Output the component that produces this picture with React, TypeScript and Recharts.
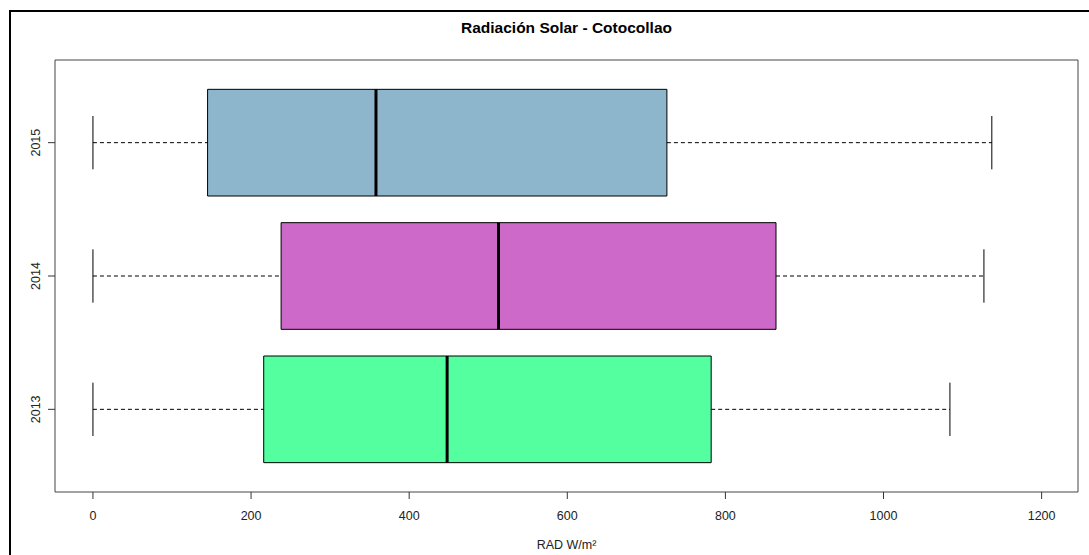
import { ComposedChart, XAxis, YAxis, Scatter, ReferenceArea, ReferenceLine } from 'recharts'

// valores (W/m²)
const years = ['2013', '2014', '2015']
const minVals = [0, 0, 0]
const q1Vals = [216, 238, 145]
const medianVals = [448, 513, 358]
const q3Vals = [782, 864, 726]
const maxVals = [1084, 1127, 1137]
const boxColors = ['#54FF9F', '#CD69C9', '#8DB6CD']
const xTicks = [0, 200, 400, 600, 800, 1000, 1200]

const FONT = '"Liberation Sans", Arial, sans-serif'

const boxes = years.map((year, i) => ({
  year,
  pos: i + 1,
  min: minVals[i],
  q1: q1Vals[i],
  median: medianVals[i],
  q3: q3Vals[i],
  max: maxVals[i],
  color: boxColors[i],
}))

const YearTick = (props: any) => {
  const { x, y, payload } = props
  return (
    <text
      x={x}
      y={y}
      transform={`rotate(-90, ${x}, ${y})`}
      textAnchor="middle"
      fontSize={12.5}
      fontFamily={FONT}
      fill="#222"
    >
      {years[payload.value - 1]}
    </text>
  )
}

export default function App() {
  return (
    <div style={{ position: 'fixed', left: 0, top: 0, width: 1089, height: 555, overflow: 'hidden', background: '#fff' }}>
      {/* marco exterior */}
      <div style={{ position: 'absolute', left: 9, top: 10, width: 1200, height: 700, border: '2px solid #000', boxSizing: 'border-box' }} />
      <div style={{ position: 'absolute', left: 0, top: 19, width: 1133, textAlign: 'center', fontFamily: FONT, fontWeight: 'bold', fontSize: 15.5, color: '#000' }}>
        Radiación Solar - Cotocollao
      </div>
      <div style={{ position: 'absolute', left: 0, top: 538, width: 1133, textAlign: 'center', fontFamily: FONT, fontSize: 12.5, color: '#222' }}>
        RAD W/m²
      </div>
      <div style={{ position: 'absolute', left: 0, top: 0 }}>
        <ComposedChart width={1089} height={555} data={boxes} margin={{ top: 60, right: 11, bottom: 0, left: 0 }}>
          <XAxis
            type="number"
            dataKey="median"
            domain={[-48, 1246]}
            ticks={xTicks}
            allowDataOverflow
            axisLine={false}
            tickSize={7}
            tickMargin={12}
            height={63}
            tickLine={{ stroke: '#333' }}
            tick={{ fontSize: 12.5, fontFamily: FONT, fill: '#222' }}
          />
          <YAxis
            type="number"
            dataKey="pos"
            domain={[0.38, 3.62]}
            ticks={[1, 2, 3]}
            allowDataOverflow
            axisLine={false}
            width={55}
            tickSize={7}
            tickMargin={8}
            tickLine={{ stroke: '#333' }}
            tick={<YearTick />}
          />

          {/* bigotes */}
          {boxes.map((b) => (
            <ReferenceLine key={`wl${b.year}`} segment={[{ x: b.min, y: b.pos }, { x: b.q1, y: b.pos }]} stroke="#000" strokeDasharray="4 3" />
          ))}
          {boxes.map((b) => (
            <ReferenceLine key={`wr${b.year}`} segment={[{ x: b.q3, y: b.pos }, { x: b.max, y: b.pos }]} stroke="#000" strokeDasharray="4 3" />
          ))}
          {boxes.map((b) => (
            <ReferenceLine key={`sl${b.year}`} segment={[{ x: b.min, y: b.pos - 0.2 }, { x: b.min, y: b.pos + 0.2 }]} stroke="#000" />
          ))}
          {boxes.map((b) => (
            <ReferenceLine key={`sr${b.year}`} segment={[{ x: b.max, y: b.pos - 0.2 }, { x: b.max, y: b.pos + 0.2 }]} stroke="#000" />
          ))}

          {/* cajas */}
          {boxes.map((b) => (
            <ReferenceArea key={`box${b.year}`} x1={b.q1} x2={b.q3} y1={b.pos - 0.4} y2={b.pos + 0.4} fill={b.color} fillOpacity={1} stroke="#000" strokeWidth={1} />
          ))}
          {boxes.map((b) => (
            <ReferenceLine key={`med${b.year}`} segment={[{ x: b.median, y: b.pos - 0.4 }, { x: b.median, y: b.pos + 0.4 }]} stroke="#000" strokeWidth={3} />
          ))}

          {/* recuadro del área de trazado */}
          <ReferenceArea x1={-48} x2={1246} y1={0.38} y2={3.62} fill="none" stroke="#444" strokeWidth={1} />

          <Scatter dataKey="pos" fill="none" isAnimationActive={false} shape={() => <g />} />
        </ComposedChart>
      </div>
    </div>
  )
}
